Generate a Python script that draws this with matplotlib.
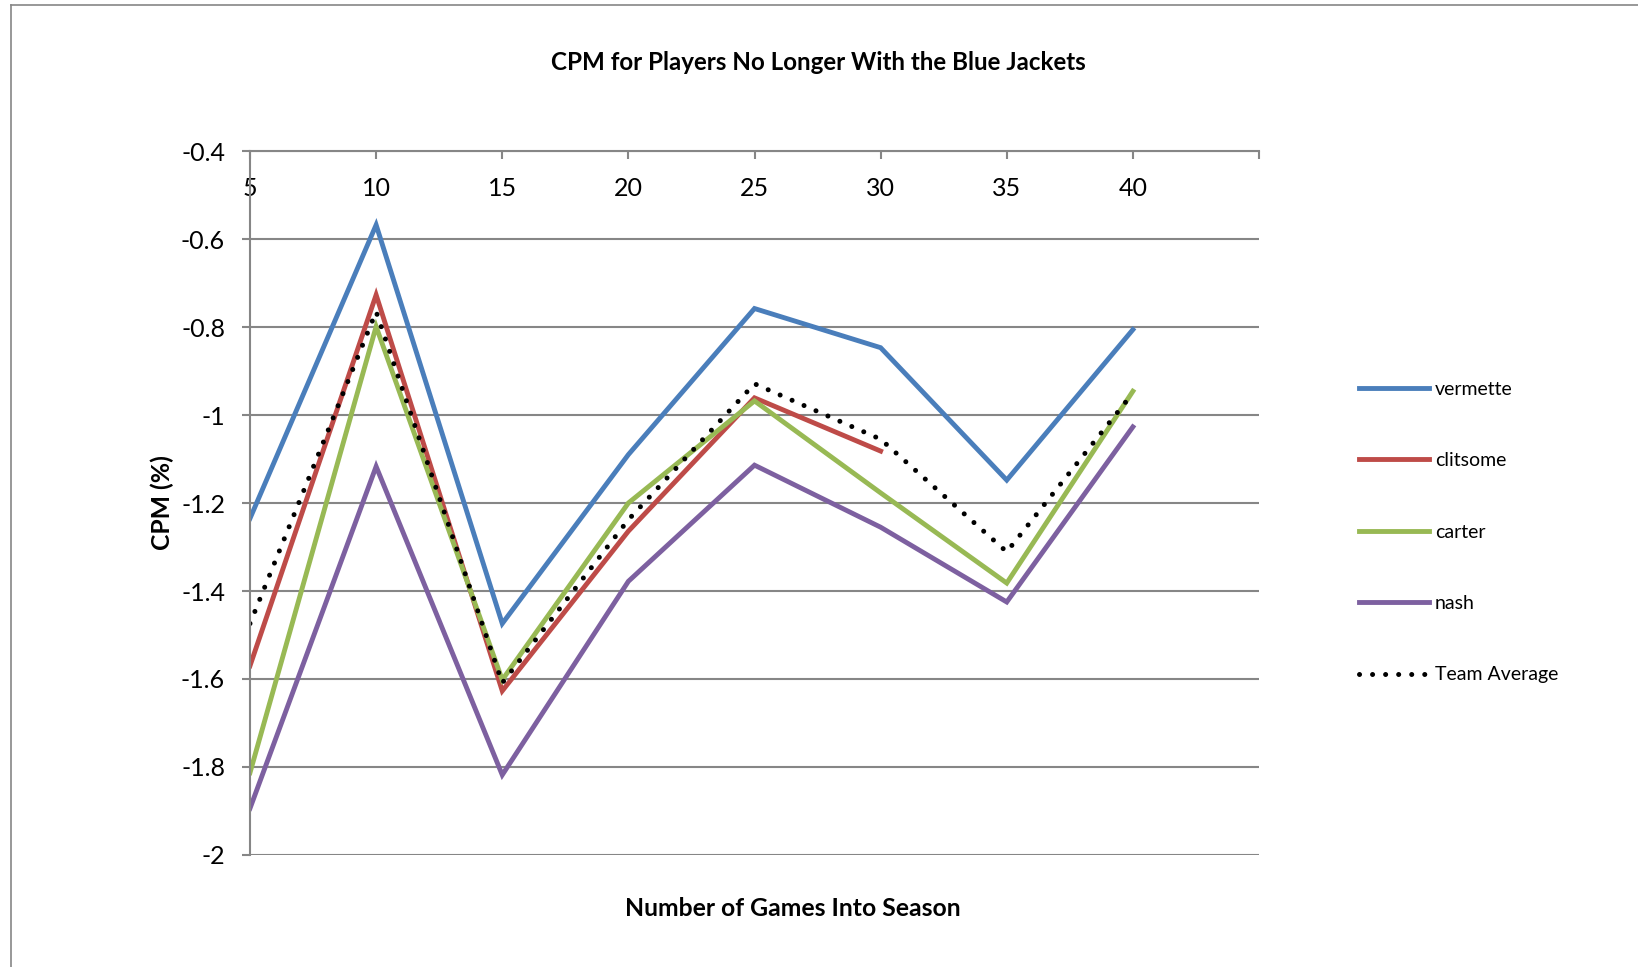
import numpy as np
import matplotlib
matplotlib.use('Agg')
import matplotlib.pyplot as plt
from matplotlib.lines import Line2D

plt.rcParams['font.family'] = ['Lato', 'DejaVu Sans']

# Data
games = [5, 10, 15, 20, 25, 30, 35, 40]
vermette = [-1.235, -0.568, -1.474, -1.090, -0.758, -0.847, -1.148, -0.806]
clitsome = [-1.570, -0.727, -1.627, -1.264, -0.961, -1.082, np.nan, np.nan]
carter = [-1.813, -0.799, -1.602, -1.200, -0.968, -1.177, -1.382, -0.946]
nash = [-1.894, -1.117, -1.818, -1.378, -1.114, -1.255, -1.425, -1.027]
team_avg = [-1.474, -0.765, -1.609, -1.238, -0.929, -1.055, -1.311, -0.950]

fig = plt.figure(figsize=(16.38, 9.67), dpi=100)
W, H = 1638, 967
ax = fig.add_axes([250 / W, 1 - 855 / H, (1259 - 250) / W, (855 - 151) / H])

grid_c = '#868686'
lw = 3.5
ax.plot(games, vermette, color='#4A7EBB', lw=lw, label='vermette', solid_joinstyle='miter')
ax.plot(games, clitsome, color='#BE4B48', lw=lw, label='clitsome', solid_joinstyle='miter')
ax.plot(games, carter, color='#98B954', lw=lw, label='carter', solid_joinstyle='miter')
ax.plot(games, nash, color='#7D60A0', lw=lw, label='nash', solid_joinstyle='miter')
ax.plot(games, team_avg, color='black', lw=3.6, ls=(0, (0.01, 2.6)),
        dash_capstyle='round', label='Team Average')

ax.set_xlim(5, 45)
ax.set_ylim(-2, -0.4)
yt = np.arange(-2, -0.39, 0.2)
ax.set_yticks(yt)
ax.set_yticklabels([f'{v:g}' for v in np.round(yt, 1)])
ax.set_xticks(games + [45])
ax.set_xticklabels([str(g) for g in games] + [''])

ax.grid(axis='y', color=grid_c, lw=1.5)
ax.set_axisbelow(True)
for s in ['right', 'bottom']:
    ax.spines[s].set_visible(False)
for s in ['left', 'top']:
    ax.spines[s].set_color(grid_c)
    ax.spines[s].set_linewidth(1.5)

ax.tick_params(axis='x', top=True, bottom=False, labeltop=True, labelbottom=False,
               direction='in', length=6, width=1.5, color=grid_c, pad=-35, labelsize=18)
ax.tick_params(axis='y', direction='out', length=6, width=1.5, color=grid_c,
               labelsize=18, pad=12)

fig.text(818 / W, 1 - 62 / H, 'CPM for Players No Longer With the Blue Jackets',
         ha='center', va='center', fontsize=17.4, fontweight='bold')
fig.text(793 / W, 1 - 908 / H, 'Number of Games Into Season',
         ha='center', va='center', fontsize=17.8, fontweight='bold')
fig.text(162 / W, 1 - 503 / H, 'CPM (%)', rotation=90,
         ha='center', va='center', fontsize=17.8, fontweight='bold')

fig.legend(loc='center left', bbox_to_anchor=(1359 / W, 1 - 532 / H), frameon=False,
           fontsize=14, handlelength=3.6, handletextpad=0.3, labelspacing=2.8,
           borderpad=0, borderaxespad=0)

# chart area border
fig.add_artist(Line2D([11 / W, 1.0], [1 - 5 / H, 1 - 5 / H], color=grid_c, lw=1.2))
fig.add_artist(Line2D([11 / W, 11 / W], [0.0, 1 - 5 / H], color=grid_c, lw=1.2))

fig.savefig('out.png', dpi=100)
